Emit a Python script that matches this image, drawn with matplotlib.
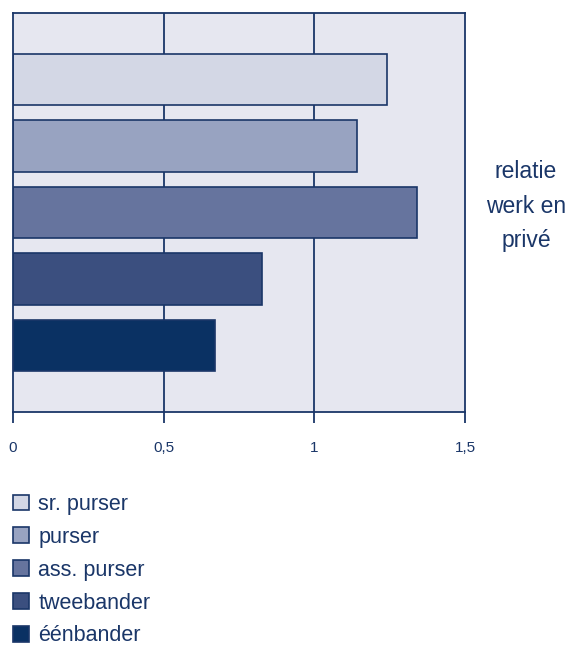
import matplotlib.pyplot as plt
from matplotlib.patches import Patch

plt.rcParams['font.family'] = ['Liberation Sans', 'DejaVu Sans']

# data
categories = ["sr. purser", "purser", "ass. purser", "tweebander", "éénbander"]
values = [1.24, 1.14, 1.34, 0.825, 0.67]
colors = ["#d3d7e5", "#98a3c1", "#66749e", "#3b4f7f", "#0a3163"]
tick_values = [0, 0.5, 1, 1.5]
tick_labels = ["0", "0,5", "1", "1,5"]
side_label = "relatie\nwerk en\nprivé"

navy = "#1a3668"

fig = plt.figure(figsize=(5.68, 6.48), dpi=100)
ax = fig.add_axes([13 / 568, 1 - 412 / 648, (465 - 13) / 568, (412 - 13) / 648])
ax.set_facecolor("#e6e7f0")

for x in tick_values[1:-1]:
    ax.axvline(x, color=navy, lw=1.3, zorder=1)

ypos = list(range(len(categories)))
ax.barh(ypos, values, height=0.78, color=colors, edgecolor=navy,
        linewidth=1.2, zorder=2)

ax.set_xlim(0, 1.5)
ax.set_ylim(5.0, -1.0)
ax.set_yticks([])
ax.set_xticks(tick_values)
ax.set_xticklabels(tick_labels)
ax.tick_params(axis="x", direction="out", length=8, width=1.3, color=navy,
               labelcolor=navy, labelsize=11, pad=13)
for s in ax.spines.values():
    s.set_color(navy)
    s.set_linewidth(1.3)

fig.text(526 / 568, 1 - 206 / 648, side_label, ha="center", va="center",
         color=navy, fontsize=16.5, linespacing=1.63)

handles = [Patch(facecolor=c, edgecolor=navy, linewidth=1.2) for c in colors]
fig.legend(handles, categories, loc="upper left",
           bbox_to_anchor=(13 / 568, 1 - 494 / 648), frameon=False,
           fontsize=15.5, labelcolor=navy, handlelength=0.75, handleheight=0.75,
           handletextpad=0.42, labelspacing=0.55, borderpad=0, borderaxespad=0)

fig.savefig("out.png", dpi=100)
